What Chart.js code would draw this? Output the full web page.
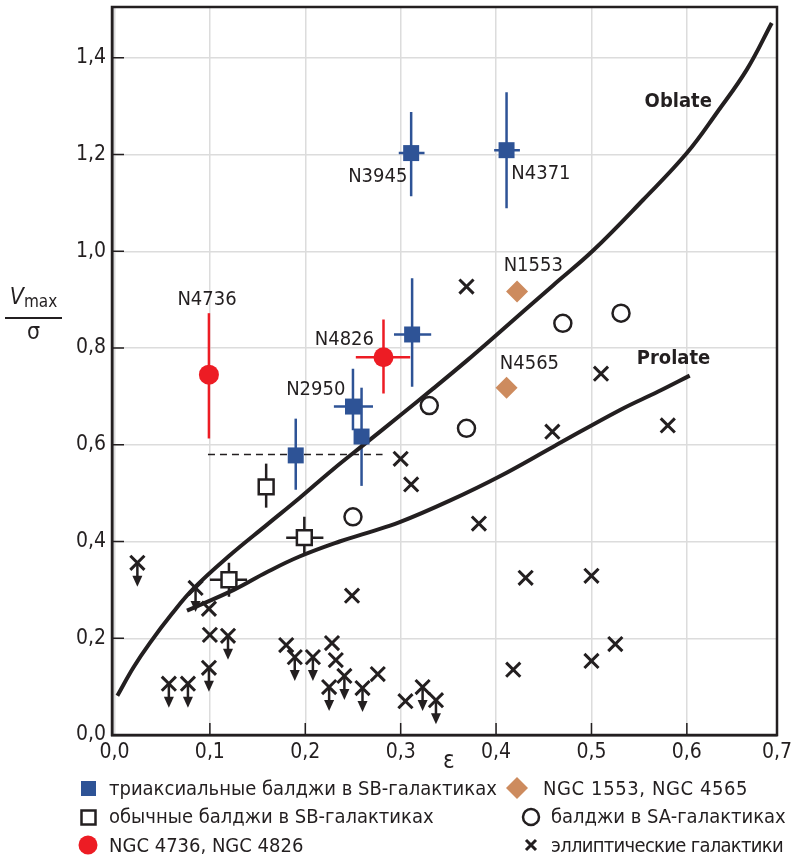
<!DOCTYPE html>
<html lang="ru">
<head>
<meta charset="UTF-8">
<title>V/σ – ε</title>
<script src="https://cdn.jsdelivr.net/npm/chart.js"></script>
<style>
  body { margin: 0; background: #fff; }
  #wrap { position: relative; width: 794px; height: 859px; font-family: "Liberation Sans Narrow", "DejaVu Sans Condensed", sans-serif; color: #231f20; }
  #chart { position: absolute; left: 0; top: 0; }
  .lbl { position: absolute; white-space: nowrap; font-size: 20px; line-height: 20px; }
  .mk { position: absolute; }
  #eps { position: absolute; left: 443px; top: 746px; font-size: 24px; }
  #ytitle { position: absolute; left: 5px; top: 283px; width: 57px; text-align: center; }
  #ytitle .num { font-size: 23px; line-height: 26px; }
  #ytitle .num i { font-style: italic; }
  #ytitle .num sub { font-size: 17px; vertical-align: -3px; }
  #ytitle .bar { height: 2px; background: #231f20; margin: 3px 0 0 0; }
  #ytitle .den { font-size: 23px; line-height: 24px; }
</style>
</head>
<body>
<div id="wrap">
  <canvas id="chart" width="794" height="859"></canvas>
  <div id="ytitle"><div class="num"><i>V</i><sub>max</sub></div><div class="bar"></div><div class="den">σ</div></div>
  <div id="eps">ε</div>

  <svg class="mk" style="left:81px;top:781px" width="15" height="15"><rect x="0" y="0" width="15" height="15" fill="#2e5396"/></svg>
  <div class="lbl" style="left:109px;top:778px">триаксиальные балджи в SB-галактиках</div>
  <svg class="mk" style="left:80px;top:809px" width="17" height="17"><rect x="1.5" y="1.5" width="14" height="14" fill="#fff" stroke="#231f20" stroke-width="2.5"/></svg>
  <div class="lbl" style="left:109px;top:806px">обычные балджи в SB-галактиках</div>
  <svg class="mk" style="left:78px;top:835px" width="20" height="20"><circle cx="10" cy="10" r="9.5" fill="#ed1c24"/></svg>
  <div class="lbl" style="left:109px;top:835px">NGC 4736, NGC 4826</div>

  <svg class="mk" style="left:506px;top:777px" width="22" height="22"><polygon points="11,0 22,11 11,22 0,11" fill="#cd8b5e"/></svg>
  <div class="lbl" style="left:543px;top:778px;letter-spacing:0.6px">NGC 1553, NGC 4565</div>
  <svg class="mk" style="left:521px;top:807px" width="20" height="20"><circle cx="10" cy="10" r="8" fill="#fff" stroke="#231f20" stroke-width="2.5"/></svg>
  <div class="lbl" style="left:551px;top:806px">балджи в SA-галактиках</div>
  <svg class="mk" style="left:524px;top:838px" width="14" height="14"><path d="M2,2 L12,12 M12,2 L2,12" stroke="#231f20" stroke-width="3"/></svg>
  <div class="lbl" style="left:551px;top:835px;letter-spacing:-0.7px">эллиптические галактики</div>
</div>

<script>
// ось x (эллиптичность) и ось y (Vmax/σ)
const xTickVals = [0, 0.1, 0.2, 0.3, 0.4, 0.5, 0.6, 0.7];
const xTickLabels = ['0,0', '0,1', '0,2', '0,3', '0,4', '0,5', '0,6', '0,7'];
const yTickVals = [0, 0.2, 0.4, 0.6, 0.8, 1.0, 1.2, 1.4];
const yTickLabels = ['0,0', '0,2', '0,4', '0,6', '0,8', '1,0', '1,2', '1,4'];

// триаксиальные балджи в SB-галактиках
const triX   = [0.311, 0.411, 0.312, 0.250, 0.259, 0.190];
const triY   = [1.203, 1.209, 0.828, 0.679, 0.617, 0.578];
const triYLo = [1.114, 1.089, 0.720, 0.630, 0.515, 0.507];
const triYHi = [1.288, 1.329, 0.944, 0.757, 0.718, 0.654];
const triXLo = [0.298, 0.398, 0.293, 0.230, null, null];
const triXHi = [0.325, 0.425, 0.332, 0.271, null, null];

// NGC 4736, NGC 4826
const redX   = [0.099, 0.282];
const redY   = [0.745, 0.781];
const redYLo = [0.613, 0.706];
const redYHi = [0.872, 0.859];
const redXLo = [null, 0.253];
const redXHi = [null, 0.310];

// обычные балджи в SB-галактиках
const sqX   = [0.159, 0.199, 0.120];
const sqY   = [0.513, 0.408, 0.321];
const sqYLo = [0.470, 0.371, 0.286];
const sqYHi = [0.561, 0.451, 0.356];
const sqXLo = [null, 0.180, 0.100];
const sqXHi = [null, 0.219, 0.139];

// NGC 1553, NGC 4565
const dmX = [0.422, 0.411];
const dmY = [0.917, 0.718];

// балджи в SA-галактиках
const saX = [0.250, 0.330, 0.369, 0.470, 0.531];
const saY = [0.451, 0.681, 0.634, 0.851, 0.872];

// эллиптические галактики
const elX = [0.369, 0.510, 0.459, 0.580, 0.300, 0.311, 0.382, 0.249, 0.431, 0.500, 0.418, 0.500, 0.525, 0.099, 0.100, 0.180, 0.228, 0.232, 0.276, 0.305];
const elY = [0.927, 0.747, 0.627, 0.640, 0.571, 0.518, 0.437, 0.288, 0.325, 0.329, 0.135, 0.153, 0.188, 0.261, 0.207, 0.186, 0.190, 0.155, 0.126, 0.070];
// верхние пределы (со стрелкой)
const ulX = [0.024, 0.085, 0.119, 0.099, 0.057, 0.077, 0.189, 0.208, 0.225, 0.241, 0.260, 0.323, 0.337];
const ulY = [0.356, 0.304, 0.205, 0.139, 0.106, 0.106, 0.161, 0.161, 0.099, 0.122, 0.097, 0.099, 0.072];

// модельные кривые
const oblateX = [0.003, 0.020, 0.037, 0.060, 0.083, 0.120, 0.160, 0.194, 0.229, 0.265, 0.299, 0.334, 0.370, 0.401, 0.460, 0.502, 0.554, 0.600, 0.632, 0.663, 0.689];
const oblateY = [0.081, 0.140, 0.190, 0.250, 0.303, 0.370, 0.435, 0.490, 0.549, 0.606, 0.660, 0.716, 0.775, 0.828, 0.930, 1.002, 1.106, 1.203, 1.288, 1.376, 1.472];
const prolateX = [0.076, 0.125, 0.160, 0.194, 0.236, 0.265, 0.299, 0.352, 0.404, 0.460, 0.530, 0.570, 0.603];
const prolateY = [0.257, 0.300, 0.337, 0.369, 0.400, 0.418, 0.440, 0.485, 0.535, 0.596, 0.672, 0.710, 0.743];

// пунктир
const dashX = [0.098, 0.281];
const dashY = [0.580, 0.580];

// подписи
const noteText = ['N3945', 'N4371', 'N1553', 'N4565', 'N4736', 'N4826', 'N2950'];
const noteX    = [0.276, 0.447, 0.439, 0.435, 0.097, 0.241, 0.211];
const noteY    = [1.155, 1.161, 0.971, 0.768, 0.899, 0.818, 0.714];
const curveText = ['Oblate', 'Prolate'];
const curveTX   = [0.591, 0.586];
const curveTY   = [1.308, 0.778];

const INK = '#231f20';
const BLUE = '#2e5396';
const RED = '#ed1c24';
const TAN = '#cd8b5e';
const FONT = '"Liberation Sans Narrow", "DejaVu Sans Condensed", sans-serif';

const pts = (xs, ys) => xs.map((x, i) => ({ x: x, y: ys[i] }));

const errorBars = {
    id: 'errorBars',
    beforeDatasetsDraw(chart) {
        const ctx = chart.ctx;
        const sx = chart.scales.x, sy = chart.scales.y;
        const groups = [
            [triX, triY, triXLo, triXHi, triYLo, triYHi, BLUE],
            [redX, redY, redXLo, redXHi, redYLo, redYHi, RED],
            [sqX, sqY, sqXLo, sqXHi, sqYLo, sqYHi, INK]
        ];
        ctx.save();
        ctx.lineWidth = 2.5;
        groups.forEach(g => {
            ctx.strokeStyle = g[6];
            g[0].forEach((x, i) => {
                const px = sx.getPixelForValue(x), py = sy.getPixelForValue(g[1][i]);
                ctx.beginPath();
                if (g[4][i] !== null) {
                    ctx.moveTo(px, sy.getPixelForValue(g[4][i]));
                    ctx.lineTo(px, sy.getPixelForValue(g[5][i]));
                }
                if (g[2][i] !== null) {
                    ctx.moveTo(sx.getPixelForValue(g[2][i]), py);
                    ctx.lineTo(sx.getPixelForValue(g[3][i]), py);
                }
                ctx.stroke();
            });
        });
        // стрелки верхних пределов
        ctx.strokeStyle = INK;
        ctx.fillStyle = INK;
        ctx.lineWidth = 2.5;
        ulX.forEach((x, i) => {
            const px = sx.getPixelForValue(x), py = sy.getPixelForValue(ulY[i]);
            ctx.beginPath();
            ctx.moveTo(px, py);
            ctx.lineTo(px, py + 15);
            ctx.stroke();
            ctx.beginPath();
            ctx.moveTo(px - 5, py + 13);
            ctx.lineTo(px + 5, py + 13);
            ctx.lineTo(px, py + 24);
            ctx.closePath();
            ctx.fill();
        });
        ctx.restore();
    },
    afterDraw(chart) {
        const ctx = chart.ctx;
        const a = chart.chartArea;
        const sx = chart.scales.x, sy = chart.scales.y;
        ctx.save();
        ctx.strokeStyle = INK;
        ctx.lineWidth = 1.5;
        ctx.beginPath();
        yTickVals.forEach(v => {
            if (v === 0) return;
            const py = sy.getPixelForValue(v);
            ctx.moveTo(a.left, py);
            ctx.lineTo(a.left + 12, py);
        });
        xTickVals.forEach(v => {
            if (v === 0 || v > sx.max) return;
            const px = sx.getPixelForValue(v);
            ctx.moveTo(px, a.bottom);
            ctx.lineTo(px, a.bottom - 12);
        });
        ctx.stroke();
        ctx.lineWidth = 2.5;
        ctx.strokeRect(a.left, a.top, a.right - a.left, a.bottom - a.top);

        ctx.fillStyle = INK;
        ctx.textAlign = 'center';
        ctx.textBaseline = 'middle';
        ctx.font = '20px ' + FONT;
        noteText.forEach((t, i) => {
            ctx.fillText(t, sx.getPixelForValue(noteX[i]), sy.getPixelForValue(noteY[i]));
        });
        ctx.font = 'bold 20px ' + FONT;
        curveText.forEach((t, i) => {
            ctx.fillText(t, sx.getPixelForValue(curveTX[i]), sy.getPixelForValue(curveTY[i]));
        });
        ctx.restore();
    }
};

new Chart(document.getElementById('chart').getContext('2d'), {
    type: 'scatter',
    data: {
        datasets: [
            { data: pts(triX, triY), pointStyle: 'rect', pointRadius: 11.3, backgroundColor: BLUE, borderWidth: 0, order: 1 },
            { data: pts(redX, redY), pointStyle: 'circle', pointRadius: 10, backgroundColor: RED, borderWidth: 0, order: 1 },
            { data: pts(sqX, sqY), pointStyle: 'rect', pointRadius: 10.5, backgroundColor: '#fff', borderColor: INK, borderWidth: 2.5, order: 1 },
            { data: pts(dmX, dmY), pointStyle: 'rectRot', pointRadius: 11, backgroundColor: TAN, borderWidth: 0, order: 1 },
            { data: pts(saX, saY), pointStyle: 'circle', pointRadius: 8.5, backgroundColor: 'rgba(255,255,255,0)', borderColor: INK, borderWidth: 2.5, order: 1 },
            { data: pts(elX, elY), pointStyle: 'crossRot', pointRadius: 10, borderColor: INK, borderWidth: 3, order: 1 },
            { data: pts(ulX, ulY), pointStyle: 'crossRot', pointRadius: 10, borderColor: INK, borderWidth: 3, order: 1 },
            { type: 'line', data: pts(oblateX, oblateY), showLine: true, borderColor: INK, borderWidth: 4, pointRadius: 0, tension: 0.4, order: 3 },
            { type: 'line', data: pts(prolateX, prolateY), showLine: true, borderColor: INK, borderWidth: 4, pointRadius: 0, tension: 0.4, order: 3 },
            { type: 'line', data: pts(dashX, dashY), showLine: true, borderColor: INK, borderWidth: 1.5, borderDash: [7, 5], pointRadius: 0, order: 3 }
        ]
    },
    options: {
        responsive: false,
        animation: false,
        events: [],
        layout: { autoPadding: false, padding: { top: 7, right: 17, left: 0, bottom: 0 } },
        plugins: { legend: { display: false }, tooltip: { enabled: false } },
        scales: {
            x: {
                type: 'linear',
                min: -0.0026,
                max: 0.6945,
                afterBuildTicks: s => { s.ticks = xTickVals.map(v => ({ value: Math.min(v, s.max) })); },
                afterFit: s => { s.height = 859 - 735; s.paddingLeft = 0; s.paddingRight = 0; },
                grid: { color: '#dcdcdc', lineWidth: 1.5, drawTicks: false },
                border: { color: INK, width: 2.5 },
                ticks: {
                    padding: 5,
                    color: INK,
                    font: { family: FONT, size: 21 },
                    maxRotation: 0,
                    autoSkip: false,
                    callback: (v, i) => xTickLabels[i]
                }
            },
            y: {
                type: 'linear',
                min: 0,
                max: 1.505,
                afterBuildTicks: s => { s.ticks = yTickVals.map(v => ({ value: v })); },
                afterFit: s => { s.width = 112; s.paddingTop = 0; s.paddingBottom = 0; },
                grid: { color: '#dcdcdc', lineWidth: 1.5, drawTicks: false },
                border: { color: INK, width: 2.5 },
                ticks: {
                    padding: 6,
                    color: INK,
                    font: { family: FONT, size: 21 },
                    autoSkip: false,
                    callback: (v, i) => yTickLabels[i]
                }
            }
        }
    },
    plugins: [errorBars]
});
</script>
</body>
</html>
